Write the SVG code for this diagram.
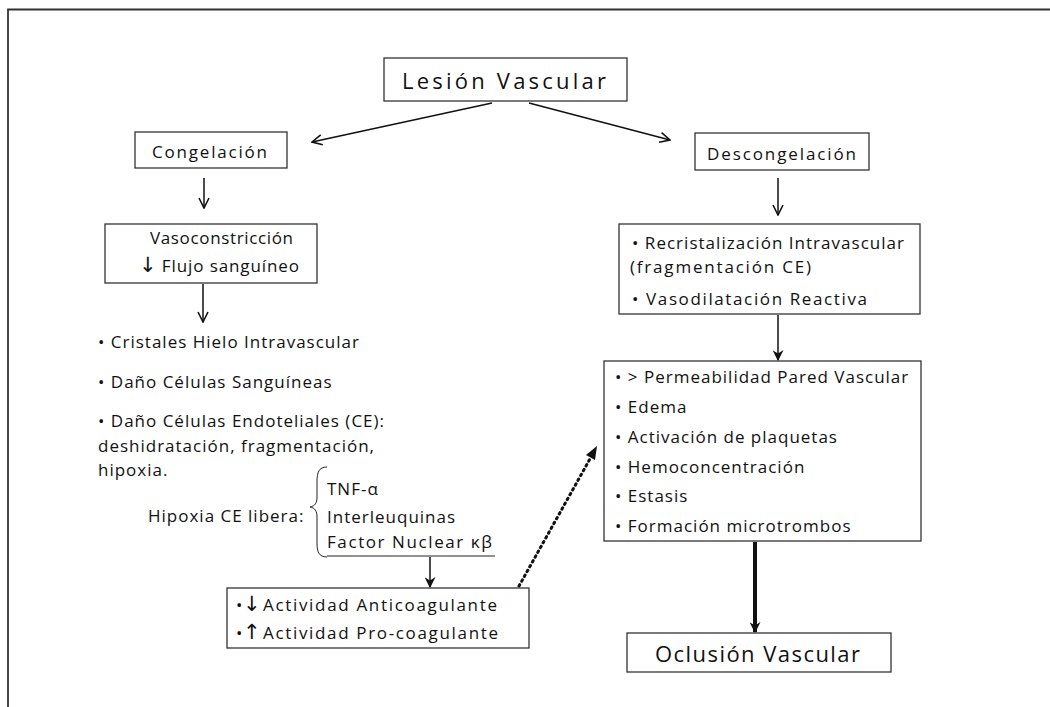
<svg xmlns="http://www.w3.org/2000/svg" width="1050" height="707" viewBox="0 0 1050 707">
<defs>
<style>
.box{fill:#fff;stroke:#333;stroke-width:1.3}
.t{font-family:"Open Sans","Liberation Sans",sans-serif;font-size:17px;fill:#111;letter-spacing:1px}
.big{font-family:"Open Sans","Liberation Sans",sans-serif;font-size:22px;fill:#111}
.ar{font-family:"DejaVu Sans",sans-serif;font-size:21px;letter-spacing:0}
.ln{stroke:#111;stroke-width:1.5;fill:none}
</style>
<marker id="ah" viewBox="0 0 12 12" refX="11" refY="6" markerWidth="12" markerHeight="12" markerUnits="userSpaceOnUse" orient="auto">
<path d="M1,1 L11,6 L1,11" fill="none" stroke="#111" stroke-width="1.6"/>
</marker>
<marker id="ahs" viewBox="0 0 10 10" refX="9" refY="5" markerWidth="11" markerHeight="11" markerUnits="userSpaceOnUse" orient="auto">
<path d="M0,0 L10,5 L0,10 L3,5 Z" fill="#111"/>
</marker>
</defs>
<rect width="1050" height="707" fill="#fff"/>
<path d="M8,707 V9.5 H1050" fill="none" stroke="#333" stroke-width="1.8"/>

<g id="connectors">
<line class="ln" x1="492" y1="103" x2="312" y2="142" marker-end="url(#ah)"/>
<line class="ln" x1="529" y1="103" x2="670" y2="140" marker-end="url(#ah)"/>
<line class="ln" x1="204" y1="178" x2="204" y2="208" marker-end="url(#ah)"/>
<line class="ln" x1="203" y1="284" x2="203" y2="322" marker-end="url(#ah)"/>
<line class="ln" x1="778" y1="178" x2="778" y2="215" marker-end="url(#ah)"/>
<line class="ln" x1="778" y1="315" x2="778" y2="360" marker-end="url(#ahs)"/>
<line class="ln" x1="430" y1="557" x2="430" y2="587" marker-end="url(#ahs)"/>
<line x1="755" y1="542" x2="755" y2="632" stroke="#111" stroke-width="4" marker-end="url(#ahs)"/>
<line x1="519" y1="586" x2="591" y2="457" stroke="#111" stroke-width="3" stroke-dasharray="1.5,4" stroke-linecap="round"/>
<path d="M597,446 L586,455 L595,460 Z" fill="#111"/>
</g>

<g id="lesion">
<rect class="box" x="384" y="58" width="243" height="43"/>
<text class="big" x="402" y="89" textLength="204" lengthAdjust="spacing">Lesión Vascular</text>
</g>

<g id="congelacion">
<rect class="box" x="135" y="132" width="152" height="36"/>
<text class="t" x="152" y="158" textLength="116" lengthAdjust="spacing">Congelación</text>
</g>

<g id="vasoconstriccion">
<rect class="box" x="105" y="224" width="212" height="59"/>
<text class="t" x="150" y="244" textLength="144" lengthAdjust="spacing">Vasoconstricción</text>
<text class="t" x="139" y="272" textLength="161" lengthAdjust="spacing"><tspan class="ar">↓</tspan> Flujo sanguíneo</text>
</g>

<g id="efectos-congelacion">
<text class="t" x="98" y="348">• Cristales Hielo Intravascular</text>
<text class="t" x="98" y="388">• Daño Células Sanguíneas</text>
<text class="t" x="98" y="427">• Daño Células Endoteliales (CE):</text>
<text class="t" x="98" y="452">deshidratación, fragmentación,</text>
<text class="t" x="98" y="476">hipoxia.</text>
</g>

<g id="hipoxia">
<text class="t" x="148" y="522">Hipoxia CE libera:</text>
<path d="M327,467 C319,467 317,472 317,482 L317,497 C317,503 315,506 310,507 C315,508 317,511 317,517 L317,543 C317,552 319,557 327,557" fill="none" stroke="#222" stroke-width="1"/>
<text class="t" x="327" y="495">TNF-α</text>
<text class="t" x="327" y="523">Interleuquinas</text>
<text class="t" x="327" y="548" textLength="166" lengthAdjust="spacing">Factor Nuclear κβ</text>
<line x1="327" y1="556" x2="495" y2="556" stroke="#222" stroke-width="1"/>
</g>

<g id="actividad">
<rect class="box" x="227" y="588" width="302" height="60"/>
<text class="t" x="236" y="611"><tspan>•</tspan><tspan class="ar" x="243">↓</tspan><tspan x="263" textLength="235" lengthAdjust="spacing">Actividad Anticoagulante</tspan></text>
<text class="t" x="236" y="639"><tspan>•</tspan><tspan class="ar" x="243">↑</tspan><tspan x="263" textLength="236" lengthAdjust="spacing">Actividad Pro-coagulante</tspan></text>
</g>

<g id="descongelacion">
<rect class="box" x="695" y="133" width="174" height="37"/>
<text class="t" x="707" y="160" textLength="150" lengthAdjust="spacing">Descongelación</text>
</g>

<g id="recristalizacion">
<rect class="box" x="619" y="224" width="301" height="90"/>
<text class="t" x="632" y="249" textLength="273" lengthAdjust="spacing">• Recristalización Intravascular</text>
<text class="t" x="630" y="273" textLength="182" lengthAdjust="spacing">(fragmentación CE)</text>
<text class="t" x="632" y="305" textLength="236" lengthAdjust="spacing">• Vasodilatación Reactiva</text>
</g>

<g id="permeabilidad">
<rect class="box" x="604" y="361" width="317" height="180"/>
<text class="t" x="615" y="383">• &gt; Permeabilidad Pared Vascular</text>
<text class="t" x="615" y="413">• Edema</text>
<text class="t" x="615" y="443">• Activación de plaquetas</text>
<text class="t" x="615" y="473">• Hemoconcentración</text>
<text class="t" x="615" y="502">• Estasis</text>
<text class="t" x="615" y="532">• Formación microtrombos</text>
</g>

<g id="oclusion">
<rect class="box" x="627" y="633" width="264" height="39"/>
<text class="big" x="655" y="662" textLength="205" lengthAdjust="spacing">Oclusión Vascular</text>
</g>
</svg>
